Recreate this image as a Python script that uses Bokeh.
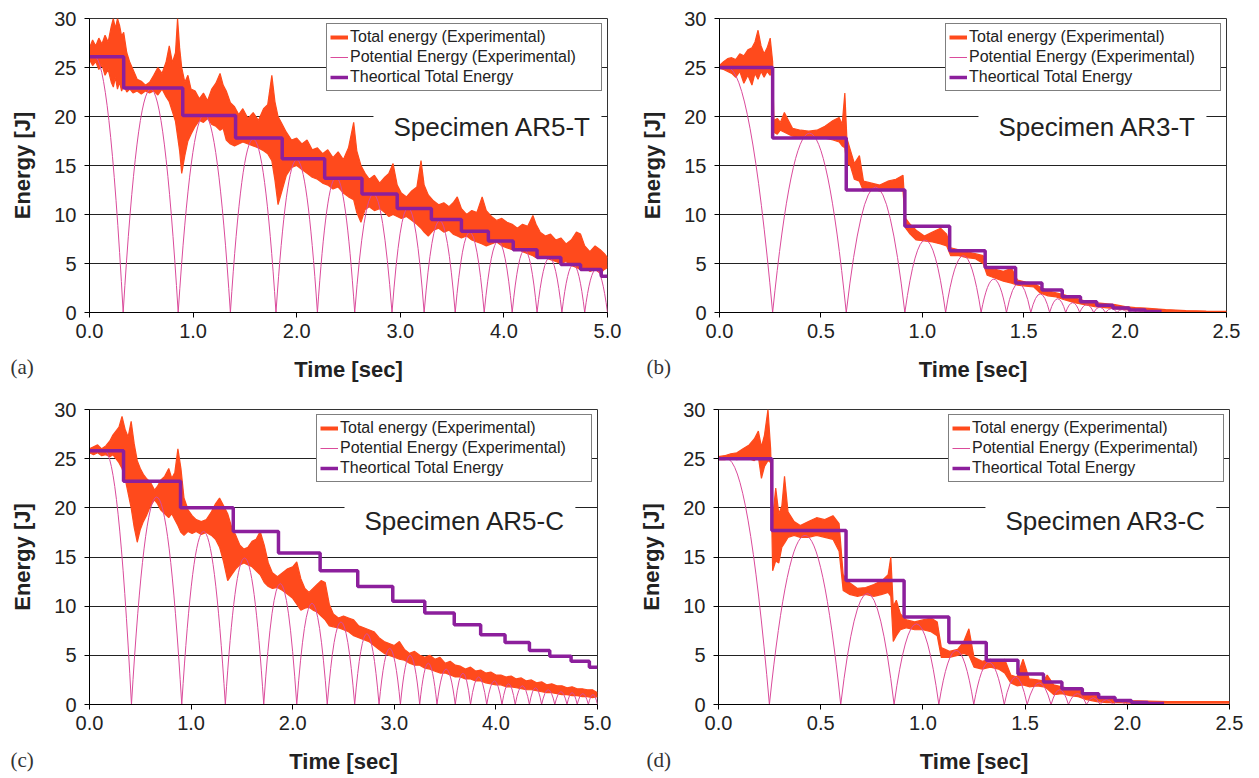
import numpy as np
from bokeh.plotting import figure
from bokeh.models import (ColumnDataSource, Legend, LegendItem, Label, FixedTicker,
                          Range1d, PrintfTickFormatter, Title)
from bokeh.layouts import column, row
from bokeh.embed import file_html
from bokeh.resources import INLINE

# ---------------- DATA ----------------
# (a) Specimen AR5-T : experimental total energy envelope (time, low, high)
t_a = [0.00, 0.03, 0.06, 0.09, 0.12, 0.15, 0.18, 0.21, 0.23, 0.25,
       0.27, 0.29, 0.31, 0.33, 0.36, 0.39, 0.42, 0.46, 0.50, 0.54,
       0.58, 0.62, 0.66, 0.70, 0.74, 0.77, 0.80, 0.83, 0.85, 0.87,
       0.89, 0.92, 0.95, 0.98, 1.02, 1.06, 1.10, 1.14, 1.18, 1.22,
       1.26, 1.29, 1.32, 1.36, 1.40, 1.44, 1.48, 1.53, 1.58, 1.63,
       1.68, 1.72, 1.76, 1.79, 1.82, 1.86, 1.90, 1.95, 2.00, 2.05,
       2.10, 2.15, 2.20, 2.25, 2.30, 2.35, 2.40, 2.45, 2.50, 2.55,
       2.58, 2.62, 2.66, 2.70, 2.75, 2.80, 2.85, 2.89, 2.93, 2.97,
       3.01, 3.06, 3.11, 3.16, 3.20, 3.23, 3.27, 3.32, 3.37, 3.42,
       3.47, 3.51, 3.55, 3.59, 3.64, 3.69, 3.74, 3.79, 3.83, 3.88,
       3.93, 3.98, 4.03, 4.08, 4.13, 4.18, 4.23, 4.28, 4.31, 4.35,
       4.40, 4.45, 4.50, 4.55, 4.60, 4.65, 4.70, 4.74, 4.78, 4.83,
       4.88, 4.93, 4.97, 5.00]
lo_a = [25.8, 25.2, 25.6, 24.8, 25.3, 24.2, 24.8, 23.5, 23.0, 24.0,
        22.8, 23.5, 22.6, 23.2, 22.5, 22.8, 22.4, 22.6, 22.3, 22.6,
        22.4, 22.6, 22.2, 22.8, 22.0, 21.5, 20.5, 19.5, 18.0, 16.5,
        14.2, 16.0, 17.5, 18.2, 19.0, 19.6, 19.4, 19.8, 19.2, 19.0,
        18.6, 18.8, 17.6, 17.2, 17.0, 17.2, 17.4, 17.2, 17.0, 16.8,
        16.5, 16.2, 15.5, 13.5, 11.0, 12.5, 14.0, 14.8, 15.0, 14.6,
        14.2, 13.8, 13.6, 13.2, 13.0, 12.6, 12.8, 12.2, 11.8, 11.5,
        10.2, 9.2, 10.5, 10.8, 10.4, 10.6, 10.2, 9.8, 10.0, 9.8,
        9.6, 9.8, 9.4, 9.0, 8.6, 8.2, 7.8, 8.4, 8.6, 8.2,
        8.4, 8.0, 7.8, 7.6, 7.8, 7.4, 7.2, 7.0, 6.8, 7.0,
        7.2, 6.8, 6.6, 6.4, 6.6, 6.2, 6.0, 5.8, 5.6, 5.8,
        5.6, 5.4, 5.2, 5.0, 5.2, 4.8, 4.6, 4.4, 4.6, 4.2,
        4.4, 4.0, 4.4, 4.6]
hi_a = [27.0, 27.8, 27.2, 28.0, 27.4, 28.3, 27.6, 29.2, 30.0, 29.0,
        30.0, 29.3, 28.2, 28.6, 26.5, 25.5, 24.8, 23.8, 23.6, 23.2,
        23.5, 24.2, 25.0, 24.4, 25.6, 27.2, 25.5, 26.5, 30.0, 27.0,
        25.0, 23.5, 24.2, 22.8, 22.6, 21.8, 22.4, 21.6, 22.8, 23.4,
        24.4, 23.2, 22.6, 21.4, 21.0, 20.2, 20.8, 19.8, 20.4, 19.6,
        20.8, 21.2, 24.2, 21.5, 20.0, 19.2, 18.4, 17.6, 17.8, 17.2,
        17.6, 16.6, 16.8, 16.2, 16.6, 15.8, 16.4, 15.6, 16.8, 19.4,
        16.5, 15.0, 14.2, 13.6, 14.0, 13.2, 13.8, 14.2, 15.2, 13.0,
        12.2, 11.8, 12.4, 12.8, 15.5, 13.0, 12.0, 11.4, 11.0, 11.2,
        10.8, 11.2, 11.8, 10.6, 10.0, 10.4, 10.2, 11.8, 10.4, 9.8,
        9.4, 9.6, 9.2, 9.0, 8.6, 9.0, 8.8, 9.9, 9.0, 8.2,
        7.8, 8.0, 7.4, 7.6, 7.0, 7.4, 8.2, 8.0, 6.8, 6.2,
        6.8, 6.4, 6.0, 5.6]
pe_a_start, pe_a_release = 26.1, 0.05
pe_a_zero = [0.325, 0.856, 1.36, 1.80, 2.20, 2.56, 2.92, 3.23, 3.53, 3.81,
             4.08, 4.32, 4.56, 4.78, 5.00]
pe_a_peak = [22.8, 20.2, 17.7, 15.6, 13.8, 12.1, 10.7, 9.4, 8.2, 7.3,
             6.4, 5.6, 4.9, 4.4]
th_a_t = [0.0, 0.33, 0.90, 1.41, 1.86, 2.27, 2.63, 2.97, 3.30, 3.59, 3.85,
          4.09, 4.32, 4.55, 4.74, 4.94, 5.0]
th_a_e = [26.1, 22.9, 20.1, 17.8, 15.7, 13.7, 12.1, 10.6, 9.5, 8.3, 7.3,
          6.4, 5.6, 4.9, 4.4, 3.7, 3.7]

# (b) Specimen AR3-T
t_b = [0.000, 0.020, 0.040, 0.060, 0.080, 0.100, 0.120, 0.140, 0.160, 0.175,
       0.190, 0.205, 0.220, 0.235, 0.250, 0.262, 0.268, 0.285, 0.300, 0.320,
       0.340, 0.360, 0.400, 0.440, 0.480, 0.520, 0.560, 0.590, 0.605, 0.618,
       0.628, 0.645, 0.665, 0.690, 0.710, 0.750, 0.790, 0.830, 0.870, 0.905,
       0.918, 0.940, 0.970, 1.010, 1.050, 1.090, 1.120, 1.140, 1.180, 1.220,
       1.260, 1.300, 1.320, 1.360, 1.400, 1.440, 1.470, 1.510, 1.550, 1.580,
       1.620, 1.660, 1.700, 1.750, 1.800, 1.850, 1.900, 1.950, 2.000, 2.050,
       2.100, 2.200, 2.300, 2.400, 2.500]
lo_b = [24.9, 24.8, 24.6, 24.4, 24.0, 24.6, 23.4, 24.2, 23.2, 24.4,
        23.8, 24.6, 24.0, 24.6, 24.2, 24.8, 18.4, 18.2, 18.6, 18.4,
        18.2, 18.0, 17.9, 18.0, 17.8, 17.8, 17.6, 17.4, 17.0, 16.8,
        15.2, 15.0, 13.6, 13.4, 12.4, 12.6, 12.4, 12.6, 12.5, 12.4,
        8.6, 8.0, 7.4, 7.3, 7.2, 7.0, 6.8, 5.8, 5.8, 5.6,
        5.5, 5.0, 3.8, 3.5, 3.2, 3.0, 2.8, 2.7, 2.6, 2.0,
        1.7, 1.6, 1.3, 1.0, 0.8, 0.6, 0.5, 0.4, 0.3, 0.2,
        0.15, 0.1, 0.05, 0.05, 0.05]
hi_b = [25.2, 25.6, 25.9, 26.0, 25.8, 26.4, 26.2, 26.8, 27.0, 27.6,
        28.8, 27.2, 26.4, 27.0, 28.0, 25.6, 19.6, 19.8, 19.4, 20.4,
        19.6, 18.8, 18.6, 18.5, 18.6, 19.0, 19.6, 19.9, 19.2, 22.4,
        17.8, 16.6, 15.2, 16.0, 13.4, 13.2, 13.0, 13.4, 13.6, 14.0,
        9.6, 9.0, 8.4, 7.8, 8.2, 8.6, 8.0, 6.6, 6.4, 6.2,
        6.0, 5.8, 4.6, 4.4, 4.2, 4.5, 3.3, 3.1, 3.0, 2.6,
        2.2, 2.0, 1.8, 1.5, 1.2, 1.0, 0.9, 0.8, 0.6, 0.5,
        0.45, 0.3, 0.2, 0.15, 0.12]
pe_b_start, pe_b_release = 25.0, 0.04
pe_b_zero = [0.262, 0.625, 0.914, 1.115, 1.29, 1.415, 1.535, 1.628, 1.707, 1.776,
             1.845, 1.904, 1.96, 2.01, 2.06, 2.10]
pe_b_peak = [18.3, 12.8, 7.4, 5.8, 3.4, 3.0, 1.9, 1.4, 1.0, 0.8,
             0.55, 0.4, 0.3, 0.2, 0.12]
th_b_t = [0.0, 0.262, 0.625, 0.914, 1.135, 1.31, 1.46, 1.59, 1.69, 1.78,
          1.86, 1.94, 2.02, 2.10, 2.18]
th_b_e = [25.0, 17.8, 12.5, 8.8, 6.3, 4.6, 3.0, 2.3, 1.6, 1.1,
          0.75, 0.45, 0.25, 0.1, 0.1]

# (c) Specimen AR5-C
t_c = [0.00, 0.04, 0.08, 0.12, 0.16, 0.20, 0.23, 0.26, 0.29, 0.32,
       0.35, 0.38, 0.41, 0.44, 0.47, 0.50, 0.53, 0.56, 0.60, 0.64,
       0.67, 0.70, 0.74, 0.78, 0.81, 0.84, 0.87, 0.90, 0.93, 0.97,
       1.01, 1.05, 1.10, 1.15, 1.20, 1.24, 1.28, 1.32, 1.36, 1.40,
       1.44, 1.48, 1.52, 1.56, 1.60, 1.64, 1.68, 1.72, 1.76, 1.80,
       1.85, 1.90, 1.95, 2.00, 2.04, 2.08, 2.12, 2.16, 2.20, 2.24,
       2.28, 2.32, 2.36, 2.40, 2.45, 2.50, 2.55, 2.60, 2.65, 2.70,
       2.75, 2.80, 2.85, 2.90, 2.95, 3.00, 3.05, 3.10, 3.15, 3.20,
       3.25, 3.30, 3.35, 3.40, 3.45, 3.50, 3.55, 3.60, 3.65, 3.70,
       3.75, 3.80, 3.85, 3.90, 3.95, 4.00, 4.05, 4.10, 4.15, 4.20,
       4.25, 4.30, 4.35, 4.40, 4.45, 4.50, 4.55, 4.60, 4.65, 4.70,
       4.75, 4.80, 4.85, 4.90, 4.95, 5.00]
lo_c = [25.6, 25.4, 25.6, 25.3, 25.4, 25.2, 25.4, 25.0, 24.6, 24.0,
        23.0, 21.5, 20.0, 18.0, 16.5, 17.8, 18.6, 19.2, 20.2, 20.8,
        20.4, 19.8, 19.4, 19.0, 19.4, 18.8, 18.2, 17.5, 17.2, 17.6,
        17.4, 17.6, 17.3, 17.5, 17.2, 16.8, 16.0, 14.5, 12.6, 13.2,
        13.8, 14.2, 14.4, 14.2, 14.0, 13.6, 13.2, 12.4, 12.0, 11.8,
        11.9, 11.6, 11.2, 10.8, 10.2, 9.6, 9.8, 9.9, 9.6, 9.4,
        9.0, 8.6, 8.0, 7.9, 7.8, 7.6, 7.4, 7.0, 6.8, 6.6,
        6.4, 6.0, 5.6, 5.2, 5.0, 4.8, 4.6, 4.5, 4.2, 4.0,
        4.0, 3.7, 3.6, 3.4, 3.2, 3.2, 3.0, 2.8, 2.8, 2.6,
        2.6, 2.4, 2.4, 2.2, 2.1, 2.0, 2.0, 1.8, 1.8, 1.7,
        1.6, 1.5, 1.5, 1.4, 1.3, 1.2, 1.2, 1.1, 1.0, 1.0,
        0.9, 0.9, 0.8, 0.8, 0.7, 0.8]
hi_c = [26.0, 26.2, 26.4, 26.0, 26.3, 26.8, 27.4, 27.8, 28.2, 29.3,
        28.0, 27.2, 28.8, 26.5, 24.8, 24.0, 23.4, 23.0, 22.6, 21.8,
        22.2, 22.8, 23.2, 24.0, 23.0, 23.6, 26.0, 24.0, 21.0, 19.8,
        19.2, 18.8, 18.6, 18.8, 19.6, 20.4, 21.0, 20.2, 19.4, 18.0,
        17.2, 16.2, 15.8, 16.0, 16.6, 16.8, 17.6, 16.2, 14.4, 13.4,
        13.0, 13.4, 13.8, 14.0, 14.5, 12.8, 11.8, 11.4, 11.8, 12.2,
        12.6, 12.4, 10.2, 9.2, 8.8, 9.0, 8.8, 8.6, 8.0, 7.8,
        7.6, 7.4, 6.8, 6.4, 6.2, 6.0, 6.4, 5.6, 5.2, 5.4,
        5.0, 4.8, 5.0, 4.6, 4.8, 4.2, 4.4, 4.0, 3.9, 3.6,
        3.8, 3.4, 3.5, 3.2, 3.3, 3.0, 3.0, 2.8, 2.9, 2.6,
        2.7, 2.4, 2.5, 2.2, 2.3, 2.0, 2.1, 1.9, 1.9, 1.7,
        1.8, 1.6, 1.6, 1.5, 1.5, 1.2]
pe_c_start, pe_c_release = 25.8, 0.15
pe_c_zero = [0.413, 0.908, 1.337, 1.715, 2.04, 2.34, 2.61, 2.85, 3.06, 3.25,
             3.42, 3.60, 3.75, 3.91, 4.06, 4.19, 4.33, 4.45, 4.58, 4.70,
             4.80, 4.91, 5.00]
pe_c_peak = [21.1, 17.6, 14.9, 12.3, 10.3, 8.4, 7.2, 5.7, 5.0, 4.2,
             3.6, 3.2, 2.8, 2.4, 2.1, 1.9, 1.7, 1.5, 1.3, 1.2,
             1.1, 1.0]
th_c_t = [0.0, 0.335, 0.896, 1.415, 1.86, 2.27, 2.64, 2.985, 3.30, 3.59, 3.85,
          4.09, 4.33, 4.53, 4.74, 4.92, 5.0]
th_c_e = [25.8, 22.7, 20.0, 17.6, 15.4, 13.6, 12.0, 10.5, 9.3, 8.1, 7.1,
          6.3, 5.5, 4.9, 4.4, 3.8, 3.8]

# (d) Specimen AR3-C
t_d = [0.000, 0.030, 0.060, 0.090, 0.120, 0.150, 0.175, 0.195, 0.210, 0.225,
       0.242, 0.255, 0.265, 0.280, 0.295, 0.310, 0.323, 0.340, 0.370, 0.400,
       0.440, 0.480, 0.520, 0.560, 0.590, 0.610, 0.640, 0.680, 0.720, 0.760,
       0.800, 0.830, 0.843, 0.855, 0.870, 0.890, 0.920, 0.960, 1.000, 1.040,
       1.070, 1.090, 1.130, 1.170, 1.200, 1.225, 1.250, 1.290, 1.330, 1.370,
       1.400, 1.430, 1.460, 1.490, 1.520, 1.560, 1.590, 1.608, 1.640, 1.680,
       1.720, 1.760, 1.800, 1.850, 1.900, 1.950, 2.000, 2.100, 2.200, 2.300,
       2.400, 2.500]
lo_d = [24.9, 24.9, 25.0, 24.9, 25.1, 25.0, 24.8, 25.2, 23.0, 24.2,
        24.8, 24.6, 13.6, 14.6, 14.4, 16.0, 16.4, 17.0, 17.2, 17.0,
        17.0, 17.2, 17.0, 16.8, 15.6, 11.6, 11.2, 11.0, 11.2, 11.0,
        11.2, 11.4, 11.0, 6.4, 7.0, 7.6, 7.8, 7.6, 7.6, 7.4,
        7.0, 4.8, 4.8, 5.0, 5.2, 5.0, 3.8, 3.6, 3.8, 3.6,
        3.2, 2.2, 1.9, 2.0, 1.8, 1.9, 1.8, 1.6, 1.0, 1.1,
        0.9, 0.8, 0.5, 0.3, 0.2, 0.2, 0.15, 0.15, 0.15, 0.15,
        0.15, 0.15]
hi_d = [25.2, 25.3, 25.5, 25.6, 26.0, 26.4, 27.0, 27.8, 26.2, 27.4,
        30.0, 26.0, 19.0, 22.0, 19.4, 20.2, 23.2, 19.6, 18.6, 18.2,
        18.6, 19.0, 18.8, 19.2, 18.4, 13.2, 12.4, 11.8, 11.9, 12.2,
        12.6, 13.2, 15.0, 10.0, 10.6, 9.2, 8.6, 8.4, 8.6, 8.8,
        8.4, 5.8, 5.4, 5.6, 6.4, 7.7, 4.8, 4.4, 4.6, 4.4,
        4.6, 3.0, 2.8, 4.6, 2.6, 2.5, 2.4, 3.0, 2.0, 1.8,
        1.6, 1.5, 1.1, 0.9, 0.6, 0.5, 0.4, 0.35, 0.3, 0.3,
        0.3, 0.3]
pe_d_start, pe_d_release = 25.0, 0.04
pe_d_zero = [0.249, 0.598, 0.859, 1.078, 1.249, 1.398, 1.51, 1.627, 1.712, 1.80,
             1.867, 1.93, 1.99, 2.04, 2.09]
pe_d_peak = [17.2, 11.3, 8.2, 5.5, 4.3, 2.8, 2.2, 1.5, 1.1, 0.7,
             0.5, 0.35, 0.25, 0.15]
th_d_t = [0.0, 0.261, 0.624, 0.908, 1.127, 1.31, 1.465, 1.59, 1.68, 1.78,
          1.86, 1.94, 2.02, 2.10, 2.18]
th_d_e = [25.0, 17.7, 12.6, 8.9, 6.3, 4.5, 3.1, 2.3, 1.6, 1.1,
          0.7, 0.4, 0.2, 0.1, 0.1]

y_ticks = [0, 5, 10, 15, 20, 25, 30]
x_ticks_long = [0, 1, 2, 3, 4, 5]
x_ticks_short = [0, 0.5, 1.0, 1.5, 2.0, 2.5]
legend_labels = ["Total energy (Experimental)", "Potential Energy (Experimental)",
                 "Theortical Total Energy"]

# ---------------- STYLE ----------------
ORANGE = "#FF4A1C"
PINK = "#DA4B9B"
PURPLE = "#8C1F9C"
FONT = "Liberation Sans"
SERIF = "Liberation Serif"
TXT = "#222222"
NAN = float("nan")


def make_title(tag, offset, standoff):
    kw = dict(text=tag, align="left", text_font=SERIF, text_font_size="21px",
              text_font_style="normal", text_color="#333333")
    try:
        return Title(offset=offset, standoff=standoff, vertical_align="top", **kw)
    except Exception:
        return Title(offset=offset, standoff=0, **kw)


def make_spec_label(x, y, text):
    kw = dict(x=x, y=y, text=text, text_font=FONT, text_font_size="26px",
              text_color=TXT, text_baseline="middle", background_fill_color="white")
    try:
        return Label(padding=dict(left=20, right=10, top=8, bottom=8), **kw)
    except Exception:
        return Label(padding=10, **kw)


def make_panel(t, lo, hi, e0, rel, zeros, peaks, th_t, th_e, xmax, xticks,
               specimen, spec_xy, tag, tag_off, tag_stand, geom):
    w, h, bl, br, bt, bb = geom
    p = figure(width=w, height=h, x_range=Range1d(0, xmax), y_range=Range1d(0, 30),
               output_backend="svg", toolbar_location=None, tools="",
               min_border_left=bl, min_border_right=br,
               min_border_top=bt, min_border_bottom=bb)
    p.background_fill_color = "white"
    p.border_fill_color = "white"
    p.outline_line_color = "#333333"
    p.outline_line_width = 1

    p.xaxis.ticker = FixedTicker(ticks=xticks)
    p.xaxis.formatter = PrintfTickFormatter(format="%.1f")
    p.yaxis.ticker = FixedTicker(ticks=y_ticks)
    p.ygrid.ticker = FixedTicker(ticks=y_ticks)
    p.ygrid.grid_line_color = "#222222"
    p.ygrid.grid_line_width = 1
    p.xgrid.grid_line_color = None

    for ax in (p.xaxis[0], p.yaxis[0]):
        ax.axis_line_color = "black"
        ax.major_tick_line_color = "black"
        ax.major_tick_out = 5
        ax.major_tick_in = 0
        ax.minor_tick_line_color = None
        ax.major_label_text_font = FONT
        ax.major_label_text_font_size = "20px"
        ax.major_label_text_color = TXT
        ax.axis_label_text_font = FONT
        ax.axis_label_text_font_size = "22px"
        ax.axis_label_text_font_style = "bold"
        ax.axis_label_text_color = TXT
    p.xaxis.axis_label = "Time [sec]"
    p.yaxis.axis_label = "Energy [J]"
    p.xaxis.major_label_standoff = 6
    p.xaxis.axis_label_standoff = 16
    p.yaxis.major_label_standoff = 8
    p.yaxis.axis_label_standoff = 16

    # experimental total energy (noisy band)
    src = ColumnDataSource(dict(t=t, lo=lo, hi=hi))
    p.varea(x="t", y1="lo", y2="hi", source=src, fill_color=ORANGE)
    p.line(x="t", y="hi", source=src, line_color=ORANGE, line_width=1.2)
    p.line(x="t", y="lo", source=src, line_color=ORANGE, line_width=1.2)

    # potential energy arcs (parabolic flights between impacts)
    x0 = [rel] + zeros[:-1]
    y0 = [e0] + [0.0] * len(peaks)
    x1 = list(zeros)
    y1 = [0.0] * len(zeros)
    cx = [(rel + zeros[0]) / 2.0] + [(zeros[i] + zeros[i + 1]) / 2.0 for i in range(len(peaks))]
    cy = [e0] + [2.0 * pk for pk in peaks]
    qsrc = ColumnDataSource(dict(x0=x0, y0=y0, x1=x1, y1=y1, cx=cx, cy=cy))
    p.quadratic(x0="x0", y0="y0", x1="x1", y1="y1", cx="cx", cy="cy", source=qsrc,
                line_color=PINK, line_width=1)

    # theoretical total energy
    r_th = p.step(x=th_t, y=th_e, mode="after", line_color=PURPLE, line_width=3.5)

    # legend-only renderers (no visible marks)
    r_leg_tot = p.line(x=[NAN], y=[NAN], line_color=ORANGE, line_width=4)
    r_leg_pe = p.line(x=[NAN], y=[NAN], line_color=PINK, line_width=1)

    legend = Legend(items=[LegendItem(label=legend_labels[0], renderers=[r_leg_tot]),
                           LegendItem(label=legend_labels[1], renderers=[r_leg_pe]),
                           LegendItem(label=legend_labels[2], renderers=[r_th])],
                    location="top_right", margin=5, padding=3, spacing=0,
                    glyph_width=18, glyph_height=16, label_height=20,
                    label_standoff=2, label_width=248,
                    label_text_font=FONT, label_text_font_size="16px",
                    label_text_color=TXT, border_line_color="black",
                    border_line_width=1, background_fill_color="white",
                    background_fill_alpha=1.0)
    p.add_layout(legend)

    p.add_layout(make_spec_label(spec_xy[0], spec_xy[1], specimen))
    p.add_layout(make_title(tag, tag_off, tag_stand), "below")
    return p


pa = make_panel(t_a, lo_a, hi_a, pe_a_start, pe_a_release, pe_a_zero, pe_a_peak,
                th_a_t, th_a_e, 5.0, x_ticks_long, "Specimen AR5-T", (2.741, 18.88),
                "(a)", -79, -60, (628, 389, 89, 21, 18, 77))
pb = make_panel(t_b, lo_b, hi_b, pe_b_start, pe_b_release, pe_b_zero, pe_b_peak,
                th_b_t, th_b_e, 2.5, x_ticks_short, "Specimen AR3-T", (1.277, 18.95),
                "(b)", -73, -60, (631, 389, 91, 33, 16, 77))
pc = make_panel(t_c, lo_c, hi_c, pe_c_start, pe_c_release, pe_c_zero, pe_c_peak,
                th_c_t, th_c_e, 5.0, x_ticks_long, "Specimen AR5-C", (2.51, 18.7),
                "(c)", -79, -58, (628, 389, 89, 31, 20, 74))
pd = make_panel(t_d, lo_d, hi_d, pe_d_start, pe_d_release, pe_d_zero, pe_d_peak,
                th_d_t, th_d_e, 2.5, x_ticks_short, "Specimen AR3-C", (1.306, 18.7),
                "(d)", -72, -58, (631, 389, 90, 30, 20, 74))

layout = column(row(pa, pb), row(pc, pd))
open("out.html", "w").write(file_html(layout, INLINE, title="Energy plots"))
